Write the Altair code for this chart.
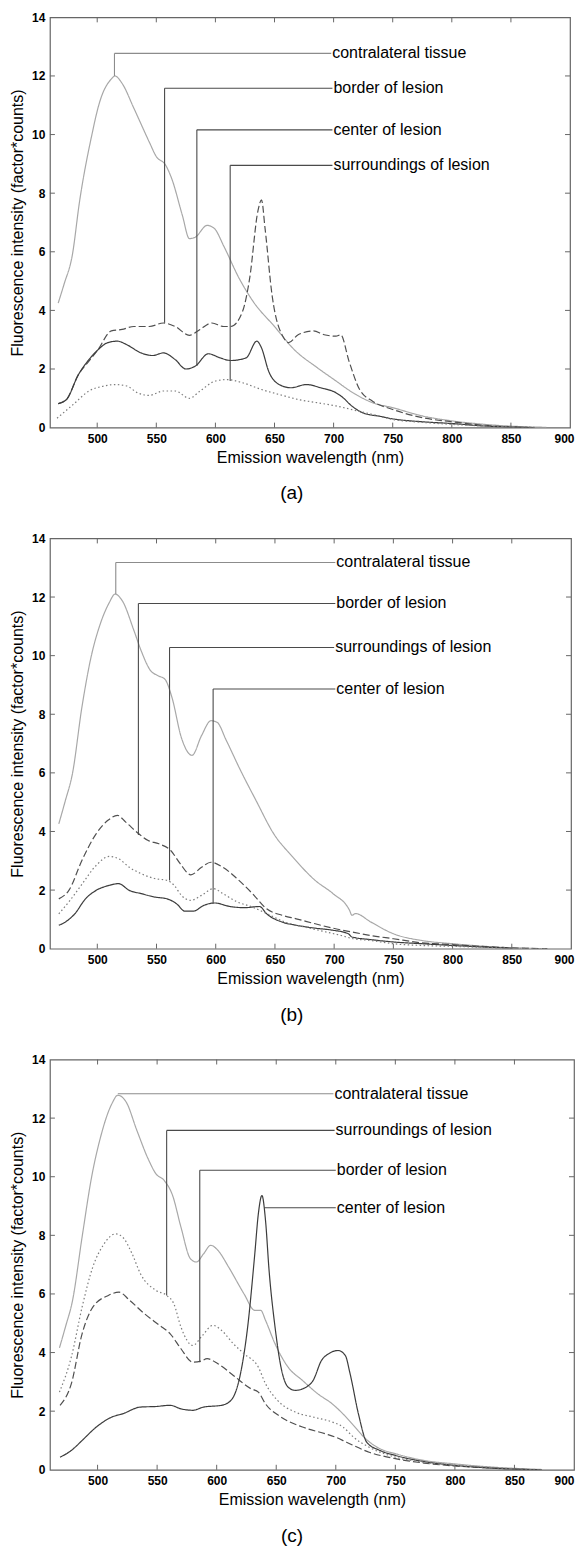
import altair as alt
import pandas as pd

FONT = "Liberation Sans"

SERIES = ["contralateral tissue", "border of lesion", "center of lesion", "surroundings of lesion"]
COLORS = ["#a8a8a8", "#505050", "#3c3c3c", "#7c7c7c"]
DASHES = [[1, 0], [7, 3], [1, 0], [1.5, 2.5]]
LEADER_COLORS = ["#8c8c8c", "#4a4a4a", "#4a4a4a", "#4a4a4a"]

X_TICKS = [500, 550, 600, 650, 700, 750, 800, 850, 900]
Y_TICKS = [0, 2, 4, 6, 8, 10, 12, 14]
X_INNER_TICKS = [500, 550, 600, 650, 700, 750, 800, 850]
Y_INNER_TICKS = [2, 4, 6, 8, 10, 12]

# ---------------- panel (a) ----------------
A_CONTRA_WL = [467, 472, 479, 485, 495, 502, 512, 515, 521, 531, 544, 550, 558, 563, 572, 578, 583, 593, 599, 607, 620, 632, 650, 667, 686, 700, 718, 733, 750, 775, 800, 825, 850, 880]
A_CONTRA_VAL = [4.25, 4.9, 5.9, 7.7, 9.9, 11.1, 11.9, 12.0, 11.75, 10.9, 9.75, 9.25, 8.95, 8.5, 7.25, 6.45, 6.5, 6.9, 6.8, 6.2, 5.1, 4.3, 3.45, 2.65, 2.05, 1.65, 1.15, 0.85, 0.68, 0.4, 0.23, 0.12, 0.05, 0.01]
A_BORDER_WL = [467, 474, 484, 493, 500, 512, 521, 531, 544, 556, 566, 578, 587, 597, 607, 613, 623, 629, 636, 639, 642, 648, 658, 662, 670, 683, 692, 702, 706, 713, 722, 733, 750, 775, 800, 825, 850, 865]
A_BORDER_VAL = [0.82, 0.96, 1.8, 2.27, 2.62, 3.3, 3.35, 3.45, 3.45, 3.57, 3.45, 3.15, 3.35, 3.57, 3.45, 3.45, 3.97, 5.1, 7.4, 7.77, 6.8, 4.5, 3.05, 2.9, 3.17, 3.3, 3.17, 3.12, 3.17, 2.27, 1.3, 0.9, 0.62, 0.34, 0.2, 0.09, 0.02, 0.0]
A_CENTER_WL = [467, 474, 484, 493, 500, 509, 517, 525, 537, 547, 556, 566, 575, 583, 594, 604, 613, 626, 635, 639, 645, 654, 664, 677, 689, 702, 708, 715, 725, 740, 750, 775, 800, 825, 850, 870]
A_CENTER_VAL = [0.82, 0.96, 1.8, 2.32, 2.63, 2.9, 2.95, 2.83, 2.55, 2.46, 2.55, 2.32, 2.0, 2.1, 2.52, 2.38, 2.29, 2.38, 2.95, 2.72, 1.93, 1.47, 1.36, 1.47, 1.36, 1.19, 1.02, 0.75, 0.5, 0.38, 0.3, 0.2, 0.14, 0.06, 0.02, 0.0]
A_SURR_WL = [466, 480, 493, 506, 515, 525, 534, 544, 556, 566, 578, 587, 600, 610, 623, 639, 654, 670, 686, 702, 718, 733, 750, 775, 800, 825, 850, 870]
A_SURR_VAL = [0.32, 0.8, 1.25, 1.42, 1.47, 1.42, 1.19, 1.1, 1.25, 1.25, 1.0, 1.25, 1.59, 1.64, 1.53, 1.3, 1.13, 0.96, 0.85, 0.74, 0.59, 0.45, 0.28, 0.18, 0.11, 0.06, 0.03, 0.01]

A_LABELS = ["contralateral tissue", "border of lesion", "center of lesion", "surroundings of lesion"]
A_LABEL_Y = [12.77, 11.58, 10.16, 8.95]
A_LEADER_X = [514.6, 557.0, 584.3, 612.5]
A_LEADER_BOTTOM = [12.0, 3.58, 2.1, 1.59]
A_TEXT_X = [698, 699, 699, 699]

# ---------------- panel (b) ----------------
B_CONTRA_WL = [467.5, 473, 479, 487, 495, 502.5, 510, 515, 521, 531, 537, 545, 551, 557, 563, 571, 580, 588, 596, 601, 609, 621, 634, 649, 665, 684, 699, 713, 715, 718, 731, 750, 774, 800, 824, 850, 874]
B_CONTRA_VAL = [4.26, 5.05, 5.97, 8.24, 10.0, 11.08, 11.8, 12.1, 11.88, 10.85, 10.17, 9.49, 9.32, 9.2, 8.58, 7.2, 6.6, 7.27, 7.78, 7.73, 7.1, 6.08, 5.06, 3.92, 3.13, 2.33, 1.88, 1.31, 1.14, 1.2, 0.91, 0.51, 0.28, 0.17, 0.09, 0.03, 0.0]
B_BORDER_WL = [467.5, 476, 487, 499, 509, 517, 524, 535, 543, 552, 562, 570, 579, 588, 596, 606, 618, 631, 643, 656, 668, 684, 699, 715, 731, 750, 774, 800, 824, 856, 880]
B_BORDER_VAL = [1.7, 1.99, 3.01, 3.92, 4.38, 4.55, 4.32, 3.92, 3.69, 3.58, 3.35, 2.9, 2.52, 2.78, 2.95, 2.78, 2.39, 1.88, 1.36, 1.14, 1.02, 0.85, 0.7, 0.57, 0.45, 0.34, 0.2, 0.14, 0.08, 0.02, 0.0]
B_SURR_WL = [467.5, 477, 487, 499, 510, 518, 527, 537, 549, 559, 565, 571, 579, 588, 598, 606, 618, 631, 643, 659, 674, 690, 706, 715, 731, 750, 774, 800, 850, 880]
B_SURR_VAL = [1.19, 1.65, 2.2, 2.84, 3.15, 3.07, 2.78, 2.56, 2.39, 2.33, 2.16, 1.82, 1.65, 1.82, 2.05, 1.88, 1.6, 1.42, 1.2, 0.9, 0.75, 0.6, 0.45, 0.35, 0.28, 0.17, 0.11, 0.08, 0.02, 0.0]
B_CENTER_WL = [467.5, 473, 481, 490, 499, 510, 518, 527, 537, 549, 559, 567, 574, 581, 590, 599, 612, 624, 637, 643, 656, 668, 684, 699, 712, 715, 731, 750, 774, 800, 824, 850]
B_CENTER_VAL = [0.8, 0.91, 1.19, 1.7, 1.99, 2.16, 2.22, 1.99, 1.88, 1.76, 1.7, 1.53, 1.28, 1.28, 1.48, 1.56, 1.44, 1.4, 1.44, 1.19, 0.91, 0.8, 0.7, 0.63, 0.51, 0.4, 0.31, 0.23, 0.17, 0.11, 0.06, 0.02]

B_LABELS = ["contralateral tissue", "border of lesion", "surroundings of lesion", "center of lesion"]
B_LABEL_Y = [13.18, 11.78, 10.28, 8.86]
B_LEADER_X = [515.6, 534.7, 561.0, 597.8]
B_LEADER_BOTTOM = [12.1, 3.88, 2.33, 1.53]
B_TEXT_X = [701, 701, 700, 701]

# ---------------- panel (c) ----------------
C_CONTRA_WL = [468, 473, 479, 487, 495, 502.5, 512, 517, 524, 533, 543, 549, 556, 563, 570, 578, 583, 589, 595, 601, 610, 623, 632, 637, 641, 649, 660, 672, 685, 697, 706, 715, 725, 737, 750, 774, 800, 825, 850, 873]
C_CONTRA_VAL = [4.16, 4.87, 5.78, 7.94, 9.99, 11.35, 12.49, 12.78, 12.55, 11.58, 10.56, 10.1, 9.87, 9.36, 8.28, 7.2, 7.09, 7.37, 7.66, 7.49, 6.92, 6.0, 5.44, 5.44, 5.1, 4.3, 3.5, 3.05, 2.59, 2.25, 1.91, 1.51, 1.06, 0.72, 0.55, 0.32, 0.2, 0.11, 0.05, 0.01]
C_SURR_WL = [468, 478, 487, 496, 505.5, 515, 521, 529, 536, 549, 558, 564, 570, 580, 587, 597, 604, 614, 623, 635, 641, 651, 666, 681, 697, 706, 715, 728, 750, 774, 800, 825, 850, 873]
C_SURR_VAL = [2.65, 3.85, 5.55, 6.92, 7.71, 8.05, 7.94, 7.37, 6.69, 6.12, 5.95, 5.67, 4.87, 4.24, 4.53, 4.93, 4.76, 4.3, 3.96, 3.5, 2.94, 2.37, 1.97, 1.8, 1.63, 1.46, 1.11, 0.77, 0.43, 0.26, 0.15, 0.09, 0.03, 0.0]
C_BORDER_WL = [468.5, 478, 487, 496, 509, 518, 527, 539.5, 552, 561, 570, 580, 587, 592, 601, 614, 629, 635, 641, 654, 672, 691, 700, 709, 728, 750, 774, 800, 825, 850, 873]
C_BORDER_VAL = [2.2, 2.94, 4.64, 5.55, 5.95, 6.06, 5.78, 5.32, 4.93, 4.64, 4.13, 3.67, 3.71, 3.79, 3.62, 3.22, 2.76, 2.65, 2.25, 1.8, 1.46, 1.23, 1.11, 0.94, 0.6, 0.38, 0.23, 0.13, 0.07, 0.02, 0.0]
C_CENTER_WL = [468.5, 478, 487, 499, 512, 521, 536, 549, 561, 570, 580, 589, 604, 612, 620, 626, 632, 635, 638, 641, 644, 649, 654, 660, 666, 675, 681, 688, 694, 702, 708, 712, 719, 726, 737, 750, 774, 800, 825, 850, 873]
C_CENTER_VAL = [0.43, 0.66, 1.0, 1.46, 1.8, 1.91, 2.14, 2.16, 2.2, 2.08, 2.03, 2.14, 2.2, 2.37, 3.28, 4.87, 7.37, 8.74, 9.36, 8.51, 6.8, 4.87, 3.5, 2.82, 2.71, 2.82, 3.05, 3.73, 3.96, 4.07, 3.9, 3.28, 1.91, 0.94, 0.66, 0.49, 0.28, 0.15, 0.07, 0.02, 0.0]

C_LABELS = ["contralateral tissue", "surroundings of lesion", "border of lesion", "center of lesion"]
C_LABEL_Y = [12.83, 11.58, 10.22, 8.94]
C_LEADER_X = [517.0, 558.0, 585.8, 639.8]
C_LEADER_BOTTOM = [12.83, 5.95, 3.67, 8.94]
C_TEXT_X = [698, 699, 700, 700]

PLOT_H = 411
X_TITLE = "Emission wavelength (nm)"
Y_TITLE = "Fluorescence intensity (factor*counts)"


def build_lines(series_data):
    rows = []
    for name, (wls, vals) in series_data.items():
        for i, (w, v) in enumerate(zip(wls, vals)):
            rows.append({"series": name, "wl": w, "val": v, "idx": i})
    return pd.DataFrame(rows)


def panel(series_data, labels, label_y, leader_x, leader_bottom, text_x, width, caption, flush_offset):
    df = build_lines(series_data)
    xs = alt.Scale(domain=[460, 900], nice=False, zero=False)
    ys = alt.Scale(domain=[0, 14], nice=False, zero=False)
    xax = alt.Axis(values=X_TICKS, title=X_TITLE, labelFlush=True, labelFlushOffset=flush_offset)
    yax = alt.Axis(values=Y_TICKS, title=Y_TITLE)

    def X(f):
        return alt.X(f, scale=xs, axis=xax)

    def Y(f):
        return alt.Y(f, scale=ys, axis=yax)

    lines = alt.Chart(df).mark_line(strokeWidth=1.2, clip=True, interpolate="monotone").encode(
        x=X("wl:Q"),
        y=Y("val:Q"),
        color=alt.Color("series:N", scale=alt.Scale(domain=SERIES, range=COLORS), legend=None),
        strokeDash=alt.StrokeDash("series:N", scale=alt.Scale(domain=SERIES, range=DASHES), legend=None),
        order=alt.Order("idx:Q"),
    )

    ldf = pd.DataFrame({
        "label": labels, "ly": label_y, "lx": leader_x, "lb": leader_bottom, "tx": text_x,
        "lc": [LEADER_COLORS[SERIES.index(l)] for l in labels],
    })
    vert = alt.Chart(ldf).mark_rule(strokeWidth=1.1).encode(
        x=X("lx:Q"), y=Y("lb:Q"), y2="ly:Q",
        color=alt.Color("lc:N", scale=None),
    )
    horiz = alt.Chart(ldf).mark_rule(strokeWidth=1.1).encode(
        x=X("lx:Q"), x2="tx:Q", y=Y("ly:Q"),
        color=alt.Color("lc:N", scale=None),
    )
    text = alt.Chart(ldf).mark_text(align="left", baseline="middle", dx=1, fontSize=16, font=FONT, color="black").encode(
        x=X("tx:Q"), y=Y("ly:Q"), text="label:N",
    )

    xt = pd.DataFrame({"t": X_INNER_TICKS})
    yt = pd.DataFrame({"t": Y_INNER_TICKS})
    tick_col = "#666666"
    xt_bot = alt.Chart(xt).mark_rule(color=tick_col).encode(
        x=X("t:Q"), y=alt.value(PLOT_H), y2=alt.value(PLOT_H - 5))
    xt_top = alt.Chart(xt).mark_rule(color=tick_col).encode(
        x=X("t:Q"), y=alt.value(0), y2=alt.value(5))
    yt_left = alt.Chart(yt).mark_rule(color=tick_col).encode(
        y=Y("t:Q"), x=alt.value(0), x2=alt.value(5))
    yt_right = alt.Chart(yt).mark_rule(color=tick_col).encode(
        y=Y("t:Q"), x=alt.value(width), x2=alt.value(width - 5))

    return alt.layer(lines, xt_bot, xt_top, yt_left, yt_right, vert, horiz, text).properties(
        width=width, height=PLOT_H,
        title=alt.TitleParams(caption, orient="bottom", anchor="middle", frame="bounds", fontSize=19,
                              font=FONT, fontWeight="normal", color="black", offset=19),
    )


pa = panel({
    "contralateral tissue": (A_CONTRA_WL, A_CONTRA_VAL),
    "border of lesion": (A_BORDER_WL, A_BORDER_VAL),
    "center of lesion": (A_CENTER_WL, A_CENTER_VAL),
    "surroundings of lesion": (A_SURR_WL, A_SURR_VAL),
}, A_LABELS, A_LABEL_Y, A_LEADER_X, A_LEADER_BOTTOM, A_TEXT_X, 521, "(a)", 4)

pb = panel({
    "contralateral tissue": (B_CONTRA_WL, B_CONTRA_VAL),
    "border of lesion": (B_BORDER_WL, B_BORDER_VAL),
    "center of lesion": (B_CENTER_WL, B_CENTER_VAL),
    "surroundings of lesion": (B_SURR_WL, B_SURR_VAL),
}, B_LABELS, B_LABEL_Y, B_LEADER_X, B_LEADER_BOTTOM, B_TEXT_X, 522, "(b)", 3)

pc = panel({
    "contralateral tissue": (C_CONTRA_WL, C_CONTRA_VAL),
    "border of lesion": (C_BORDER_WL, C_BORDER_VAL),
    "center of lesion": (C_CENTER_WL, C_CENTER_VAL),
    "surroundings of lesion": (C_SURR_WL, C_SURR_VAL),
}, C_LABELS, C_LABEL_Y, C_LEADER_X, C_LEADER_BOTTOM, C_TEXT_X, 525, "(c)", 0)

chart = alt.vconcat(pa, pb, pc, spacing=27).properties(
    padding={"left": 1, "top": 1, "right": 0, "bottom": 0},
    background="white",
).configure_view(
    stroke="#666666", strokeWidth=1.2
).configure_axis(
    domain=False, grid=False, ticks=False, tickSize=0,
    labelFont=FONT, labelFontSize=12, labelFontWeight="bold", labelColor="black",
    titleFont=FONT, titleFontSize=16, titleFontWeight="normal", titleColor="black",
).configure_axisX(
    labelPadding=6, titlePadding=5,
).configure_axisY(
    labelPadding=5, titlePadding=6,
)

chart.save("out.html", embed_options={"renderer": "svg", "actions": False})
